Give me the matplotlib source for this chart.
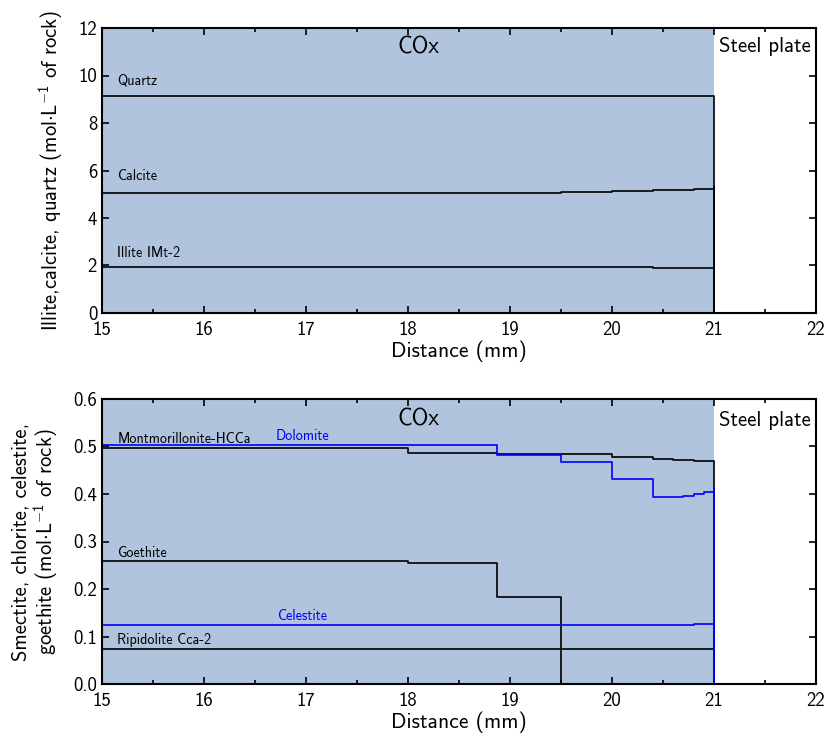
import numpy as np
import matplotlib.pyplot as plt
from matplotlib.ticker import MultipleLocator

plt.rcParams['font.family'] = ['cmss10', 'DejaVu Sans']
plt.rcParams['mathtext.fontset'] = 'custom'
plt.rcParams['mathtext.rm'] = 'cmss10'
plt.rcParams['axes.unicode_minus'] = False

# distance (mm) / amount (mol/L of rock), step profiles
quartz_x = [15, 19.5, 20, 21, 21]
quartz_y = [9.14, 9.13, 9.12, 9.10, 0]
calcite_x = [15, 19.5, 20, 20.4, 20.6, 20.8, 20.9, 21, 21]
calcite_y = [5.04, 5.08, 5.12, 5.16, 5.18, 5.21, 5.24, 5.29, 0]
illite_x = [15, 19.5, 20, 20.4, 21, 21]
illite_y = [1.95, 1.94, 1.92, 1.91, 1.90, 0]

montmo_x = [15, 18, 18.87, 19.5, 20, 20.4, 20.6, 20.8, 21, 21]
montmo_y = [0.497, 0.486, 0.484, 0.485, 0.478, 0.473, 0.471, 0.469, 0.466, 0]
dolomite_x = [15, 18.87, 19.5, 20, 20.4, 20.6, 20.7, 20.8, 20.9, 21, 21]
dolomite_y = [0.503, 0.482, 0.468, 0.431, 0.393, 0.394, 0.396, 0.399, 0.404, 0.411, 0]
goethite_x = [15, 18, 18.87, 19.5, 21]
goethite_y = [0.259, 0.254, 0.184, 0, 0]
celestite_x = [15, 20.5, 20.8, 21, 21]
celestite_y = [0.125, 0.125, 0.126, 0.127, 0]
ripido_x = [15, 21, 21]
ripido_y = [0.074, 0.074, 0]

cox_end = 21
shade = '#b0c4de'
lw = 1.2

fig = plt.figure(figsize=(8.25, 7.37), dpi=100)
ax1 = fig.add_axes([102/825, 1-313/737, 714/825, 285/737])
ax2 = fig.add_axes([102/825, 1-684/737, 714/825, 285/737])


def style(ax, ymax, ystep):
    ax.axvspan(15, cox_end, color=shade, zorder=0, lw=0)
    ax.set_xlim(15, 22)
    ax.set_ylim(0, ymax)
    ax.xaxis.set_major_locator(MultipleLocator(1))
    ax.xaxis.set_minor_locator(MultipleLocator(0.5))
    ax.yaxis.set_major_locator(MultipleLocator(ystep))
    ax.tick_params(which='both', direction='in', top=True, right=True,
                   labelsize=13.5, width=1.2)
    ax.tick_params(axis='x', pad=6)
    ax.tick_params(which='major', length=5)
    ax.tick_params(which='minor', length=3)
    for sp in ax.spines.values():
        sp.set_linewidth(1.5)
    ax.set_xlabel('Distance (mm)', fontsize=15.5, labelpad=1)


style(ax1, 12, 2)
ax1.plot(quartz_x, quartz_y, drawstyle='steps-post', color='black', lw=lw)
ax1.plot(calcite_x, calcite_y, drawstyle='steps-post', color='black', lw=lw)
ax1.plot(illite_x, illite_y, drawstyle='steps-post', color='black', lw=lw)
ax1.text(15.15, 9.6, 'Quartz', fontsize=10.2)
ax1.text(15.15, 5.6, 'Calcite', fontsize=10.2)
ax1.text(15.15, 2.35, 'Illite IMt-2', fontsize=10.2)
ax1.text(17.9, 11.2, 'COx', fontsize=16.5, va='center')
ax1.text(21.5, 11.2, 'Steel plate', fontsize=15, ha='center', va='center')
ax1.set_ylabel('Illite,calcite, quartz (mol$\\cdot$L$^{-1}$ of rock)', fontsize=14.8)
ax1.yaxis.set_label_coords(-0.052, 0.5)
ax1.yaxis.set_major_formatter(plt.FormatStrFormatter('%d'))

style(ax2, 0.6, 0.1)
ax2.plot(montmo_x, montmo_y, drawstyle='steps-post', color='black', lw=lw)
ax2.plot(goethite_x, goethite_y, drawstyle='steps-post', color='black', lw=lw)
ax2.plot(ripido_x, ripido_y, drawstyle='steps-post', color='black', lw=lw)
ax2.plot(dolomite_x, dolomite_y, drawstyle='steps-post', color='blue', lw=lw)
ax2.plot(celestite_x, celestite_y, drawstyle='steps-post', color='blue', lw=lw)
ax2.text(15.15, 0.508, 'Montmorillonite-HCCa', fontsize=10.2)
ax2.text(16.7, 0.513, 'Dolomite', fontsize=10.2, color='blue')
ax2.text(15.15, 0.268, 'Goethite', fontsize=10.2)
ax2.text(16.72, 0.135, 'Celestite', fontsize=10.2, color='blue')
ax2.text(15.15, 0.085, 'Ripidolite Cca-2', fontsize=10.2)
ax2.text(17.9, 0.556, 'COx', fontsize=16.5, va='center')
ax2.text(21.5, 0.554, 'Steel plate', fontsize=15, ha='center', va='center')
ax2.set_ylabel('Smectite, chlorite, celestite,\ngoethite (mol$\\cdot$L$^{-1}$ of rock)',
               fontsize=14.8, linespacing=1.0)
ax2.yaxis.set_label_coords(-0.059, 0.5)
ax2.yaxis.set_major_formatter(plt.FormatStrFormatter('%.1f'))

fig.savefig('out.png', dpi=100)
